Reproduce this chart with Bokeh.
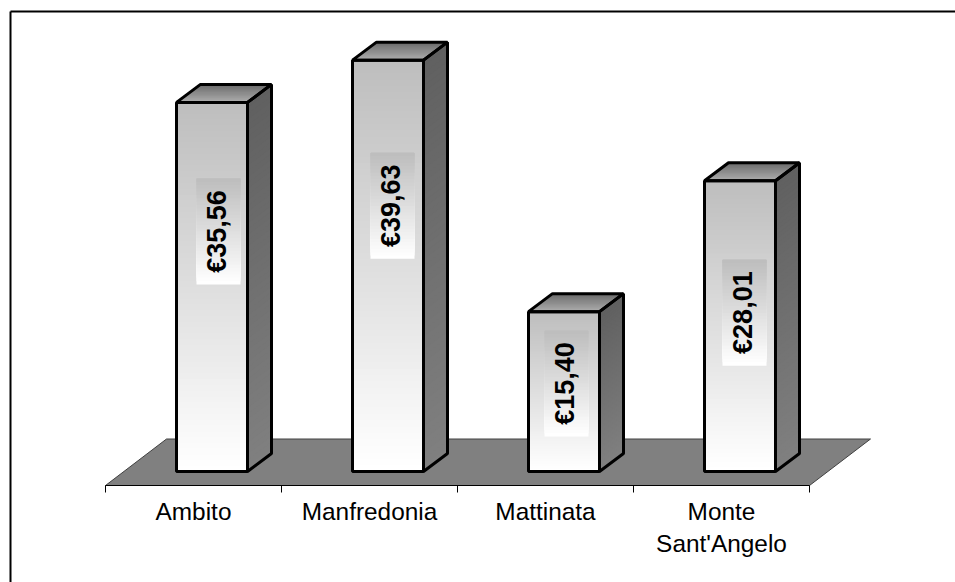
from bokeh.embed import file_html
from bokeh.resources import INLINE
from bokeh.core.properties import value
from bokeh.models import FixedTicker, LinearAxis, Range1d
from bokeh.plotting import figure

categories = ["Ambito", "Manfredonia", "Mattinata", "Monte\nSant'Angelo"]
values = [35.56, 39.63, 15.40, 28.01]
value_labels = ["€35,56", "€39,63", "€15,40", "€28,01"]
tick_positions = [0, 1, 2, 3, 4]
label_lift = [55.5, 60, 8, 13.5]      # px above the bar's mid-height
label_shift = [6.5, 4.5, 2.5, 4.5]    # px right of the bar's centre

# --- layout (picture pixels), converted through the figure's own scales ------
WIDTH, HEIGHT = 955, 582
PX_PER_UNIT = 10.38          # vertical pixels per euro
CAT_W = 176.0                # pixels per category
X0_PX = 105.0                # first tick
AXIS_PX = 485.0              # axis line
BASE_PX = 471.0              # foot of the front faces
LEFT, TOP = 0.0, 0.0
DX, DY = 24 / CAT_W, 18 / PX_PER_UNIT      # 3-D depth in data units
BAR_W = 71 / CAT_W
STEPS = 64


def grey(a, b, t):
    v = round(a + (b - a) * t)
    return f"#{v:02x}{v:02x}{v:02x}"


def xpx(px):
    return (px - X0_PX) / CAT_W


def ypx(px):
    return (BASE_PX - px) / PX_PER_UNIT


p = figure(
    width=WIDTH, height=HEIGHT, output_backend="svg", toolbar_location=None,
    min_border_left=0, min_border_right=0, min_border_top=0, min_border_bottom=0,
    x_axis_location=None, y_axis_location=None,
    x_range=Range1d(xpx(LEFT), xpx(LEFT + WIDTH)),
    y_range=Range1d(ypx(TOP + HEIGHT), ypx(TOP)),
    outline_line_color=None, background_fill_color="white", border_fill_color="white",
)
p.grid.visible = False

fy0 = ypx(AXIS_PX)
ax = LinearAxis(
    fixed_location=fy0,
    ticker=FixedTicker(ticks=[i + 0.5 for i in range(len(categories))], minor_ticks=tick_positions),
    major_label_overrides={i + 0.5: c for i, c in enumerate(categories)},
    bounds=(tick_positions[0], tick_positions[-1]),
    major_tick_out=0, major_tick_in=0, minor_tick_out=7, minor_tick_in=0,
    minor_tick_line_color="#000000", axis_line_color="#000000",
    major_label_text_font="Liberation Sans", major_label_text_font_size="24.4px",
    major_label_text_color="#000000", major_label_standoff=5,
)
p.add_layout(ax, "below")

# picture border: only its left and top edges fall inside the page
p.line([xpx(10), xpx(10)], [ypx(TOP + HEIGHT), ypx(11)], line_color="#000000", line_width=2)
p.line([xpx(10), xpx(LEFT + WIDTH)], [ypx(11), ypx(11)], line_color="#000000", line_width=2)

# floor
fdy = 46.5 / PX_PER_UNIT
fdx = 61 / CAT_W
p.patch([0, 4, 4 + fdx, fdx], [fy0, fy0, fy0 + fdy, fy0 + fdy], fill_color="#808080",
        line_color="#404040", line_width=1)

for i, v in enumerate(values):
    x0 = i + xpx(176)
    x1 = x0 + BAR_W
    # painter's order: each band reaches the top, so no seams appear
    for s in range(STEPS):
        a = v * s / STEPS
        p.quad(left=x0, right=x1, bottom=a, top=v,
               fill_color=grey(255, 190, s / (STEPS - 1)), line_color=None)
        p.patch([x1, x1 + DX, x1 + DX, x1], [a, a + DY, v + DY, v],
                fill_color=grey(128, 96, s / (STEPS - 1)), line_color=None)
    for s in range(14):
        t0 = s / 14
        p.patch([x0 + DX * t0, x1 + DX * t0, x1 + DX, x0 + DX],
                [v + DY * t0, v + DY * t0, v + DY, v + DY],
                fill_color=grey(172, 108, s / 13), line_color=None)
    # outlines
    p.patch([x0, x1, x1, x0], [0, 0, v, v], fill_color=None, line_color="#000000", line_width=3)
    p.patch([x1, x1 + DX, x1 + DX, x1], [0, DY, v + DY, v], fill_color=None, line_color="#000000", line_width=3)
    p.patch([x0, x1, x1 + DX, x0 + DX], [v, v, v + DY, v + DY], fill_color=None, line_color="#000000", line_width=3)

    # value label on its own graded plate
    cx = (x0 + x1) / 2 + label_shift[i] / CAT_W
    cy = v / 2 + label_lift[i] / PX_PER_UNIT
    pw, ph = 44 / CAT_W, 106 / PX_PER_UNIT
    for s in range(32):
        b = cy - ph / 2 + ph * s / 32
        p.quad(left=cx - pw / 2, right=cx + pw / 2, bottom=b, top=cy + ph / 2,
               fill_color=grey(255, 190, s / 31), line_color=None)
    p.text(x=[cx - 1.5 / CAT_W], y=[cy], text=[value_labels[i]], angle=1.5708, text_align="center",
           text_baseline="middle", text_font_size="27px", text_font_style="bold",
           text_font=value("Liberation Sans"), text_color="#000000")

open("out.html", "w").write(file_html(p, INLINE))
